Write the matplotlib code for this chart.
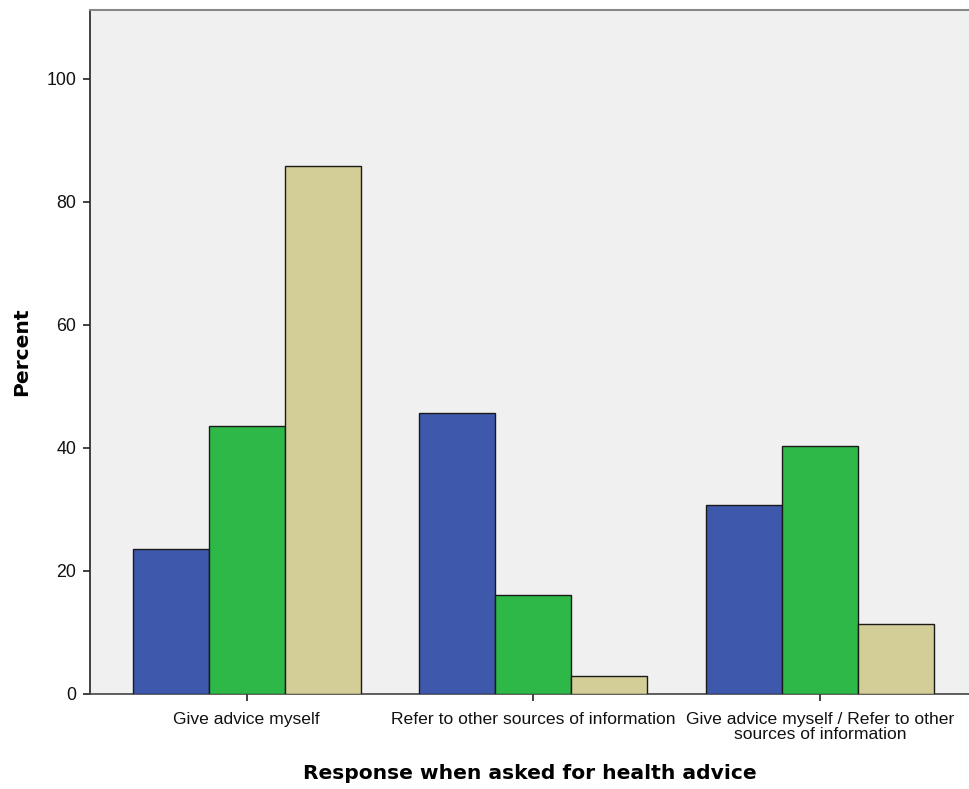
import numpy as np
import matplotlib.pyplot as plt

categories = ["Give advice myself",
              "Refer to other sources of information",
              "Give advice myself / Refer to other\nsources of information"]
series_a = [23.6, 45.7, 30.7]
series_b = [43.6, 16.1, 40.3]
series_c = [85.8, 2.9, 11.4]
yticks = [0, 20, 40, 60, 80, 100]

colors = ["#3E58AC", "#2EB848", "#D3CE97"]

fig = plt.figure(figsize=(9.69, 7.89), dpi=100)
ax = fig.add_axes([90/969, 1-694/789, 1-90/969, (694-10)/789])
ax.set_facecolor("#F0F0F0")

x = np.arange(len(categories))
w = 0.265
for i, vals in enumerate([series_a, series_b, series_c]):
    ax.bar(x + (i-1)*w, vals, w, color=colors[i], edgecolor="#1a1a1a", linewidth=1.0, zorder=3)

ax.set_xlim(-0.547, 2.52)
ax.set_ylim(0, 111.2)
ax.set_yticks(yticks)
ax.set_xticks(x)
ax.set_xticklabels(categories, family="Liberation Sans", fontsize=12.6, linespacing=1.0,
                   color="#111111")
for lab in ax.get_yticklabels():
    lab.set_family("Liberation Sans")
    lab.set_fontsize(12.8)
    lab.set_color("#111111")
ax.tick_params(axis="both", direction="out", length=5, width=1.2, color="#222222")
ax.tick_params(axis="x", pad=8)
ax.tick_params(axis="y", pad=5)

ax.spines["right"].set_visible(False)
ax.spines["top"].set_color("#888888")
ax.spines["top"].set_linewidth(1.5)
ax.spines["left"].set_color("#222222")
ax.spines["left"].set_linewidth(1.2)
ax.spines["bottom"].set_color("#444444")
ax.spines["bottom"].set_linewidth(1.2)

ax.set_ylabel("Percent", fontsize=14.6, fontweight="bold", labelpad=11)
ax.set_xlabel("Response when asked for health advice", fontsize=14.6, fontweight="bold", labelpad=16)

fig.savefig("out.png", dpi=100)
